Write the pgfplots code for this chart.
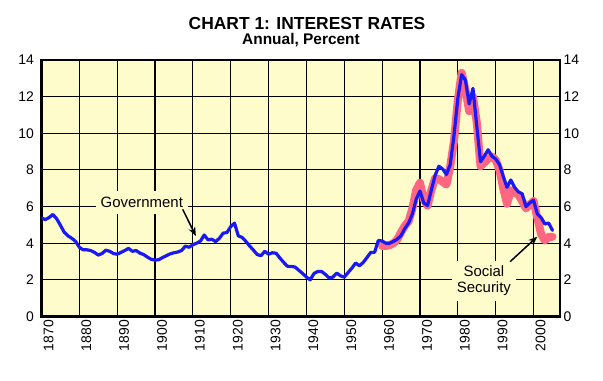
\documentclass[border=0pt]{standalone}
\usepackage{pgfplots}
\pgfplotsset{compat=1.18}
\usepackage{pgfplotstable}
\usepackage{fontspec}
\setmainfont{Liberation Sans}
\usetikzlibrary{arrows.meta}
\definecolor{bgy}{RGB}{255,252,204}
\definecolor{govblue}{RGB}{25,25,245}
\definecolor{sspink}{RGB}{255,102,130}

\pgfplotstableread{
year gov
1870 5.38
1871 5.29
1872 5.40
1873 5.57
1874 5.34
1875 4.98
1876 4.60
1877 4.40
1878 4.27
1879 4.10
1880 3.78
1881 3.64
1882 3.64
1883 3.60
1884 3.50
1885 3.35
1886 3.44
1887 3.62
1888 3.56
1889 3.44
1890 3.40
1891 3.50
1892 3.60
1893 3.72
1894 3.56
1895 3.60
1896 3.46
1897 3.38
1898 3.24
1899 3.12
1900 3.08
1901 3.10
1902 3.22
1903 3.32
1904 3.42
1905 3.48
1906 3.52
1907 3.60
1908 3.84
1909 3.78
1910 3.92
1911 4.00
1912 4.12
1913 4.45
1914 4.18
1915 4.22
1916 4.09
1917 4.27
1918 4.55
1919 4.58
1920 4.91
1921 5.10
1922 4.40
1923 4.32
1924 4.10
1925 3.85
1926 3.62
1927 3.38
1928 3.32
1929 3.56
1930 3.40
1931 3.48
1932 3.45
1933 3.19
1934 2.95
1935 2.74
1936 2.73
1937 2.70
1938 2.52
1939 2.35
1940 2.15
1941 2.00
1942 2.35
1943 2.46
1944 2.46
1945 2.30
1946 2.10
1947 2.15
1948 2.37
1949 2.22
1950 2.15
1951 2.40
1952 2.64
1953 2.92
1954 2.77
1955 2.95
1956 3.22
1957 3.50
1958 3.50
1959 4.15
1960 4.12
1961 4.00
1962 4.00
1963 4.10
1964 4.22
1965 4.42
1966 4.80
1967 5.10
1968 5.60
1969 6.40
1970 6.85
1971 6.20
1972 6.05
1973 6.90
1974 7.70
1975 8.20
1976 8.05
1977 7.75
1978 8.30
1979 9.90
1980 11.9
1981 13.2
1982 12.9
1983 11.6
1984 12.45
1985 10.4
1986 8.45
1987 8.75
1988 9.10
1989 8.75
1990 8.60
1991 8.30
1992 7.65
1993 7.05
1994 7.45
1995 7.05
1996 6.80
1997 6.70
1998 6.00
1999 6.20
2000 6.35
2001 5.60
2002 5.40
2003 5.05
2004 5.10
2005 4.70
}\govtable

\pgfplotstableread{
year ss
1960 3.85
1961 3.85
1962 3.90
1963 4.00
1964 4.20
1965 4.60
1966 4.95
1967 5.20
1968 5.90
1969 6.90
1970 7.30
1971 6.40
1972 6.05
1973 6.90
1974 7.55
1975 7.50
1976 7.35
1977 7.20
1978 8.20
1979 9.60
1980 11.8
1981 13.3
1982 12.4
1983 11.2
1984 12.0
1985 10.6
1986 8.20
1987 8.40
1988 8.60
1989 8.73
1990 8.55
1991 8.00
1992 7.00
1993 6.15
1994 6.90
1995 6.75
1996 6.65
1997 6.30
1998 5.90
1999 6.10
2000 6.30
2001 5.40
2002 4.50
2003 4.15
2004 4.35
2005 4.35
}\sstable

\begin{document}
\begin{tikzpicture}[x=1bp,y=1bp]
\useasboundingbox (0,0) rectangle (603,380);
\node[font=\bfseries\fontsize{17.5}{20}\selectfont, anchor=base, inner sep=0pt] at (307,351) {CHART 1: INTEREST RATES};
\node[font=\bfseries\fontsize{15.5}{18}\selectfont, anchor=base, inner sep=0pt] at (301,335.5) {Annual, Percent};
\begin{axis}[
  at={(41.5bp,63.5bp)}, anchor=south west,
  scale only axis, width=518.5bp, height=256.5bp,
  xmin=1870, xmax=2007, ymin=0, ymax=14,
  xtick={1870,1880,...,2000}, ytick={0,2,...,14},
  grid=major, major grid style={black, line width=1.1bp},
  axis line style={black, line width=2.2bp},
  axis background/.style={fill=bgy},
  major tick length=0pt,
  tick label style={font=\fontsize{14}{16}\selectfont},
  /pgf/number format/assume math mode=true,
  /pgf/number format/1000 sep={},
  xticklabel style={rotate=90, anchor=east, yshift=-7bp},
  yticklabel style={xshift=-4bp},
]
\addplot[sspink, line width=8bp, line join=round, line cap=round] table[x=year, y=ss] {\sstable};
\addplot[govblue, line width=3.2bp, line join=round, line cap=round] table[x=year, y=gov] {\govtable};
\node[fill=bgy, inner xsep=5bp, inner ysep=6bp, font=\fontsize{15}{15}\selectfont] at (axis cs:1896.5,6.22) {Government};
\draw[black, line width=1.5bp, -{Stealth[length=9bp,width=7bp]}] (axis cs:1907.3,5.85) -- (axis cs:1910.8,4.39);
\node[fill=bgy, inner xsep=5bp, inner ysep=5bp, align=center, font=\fontsize{15}{16}\selectfont] at (axis cs:1986.9,1.94) {Social\\Security};
\draw[black, line width=1.5bp, -{Stealth[length=9bp,width=7bp]}] (axis cs:1993.8,2.99) -- (axis cs:2001.0,4.36);
\end{axis}
\begin{axis}[
  at={(41.5bp,63.5bp)}, anchor=south west,
  scale only axis, width=518.5bp, height=256.5bp,
  xmin=1870, xmax=2007, ymin=0, ymax=14,
  xtick=\empty, ytick={0,2,...,14},
  ytick pos=right, yticklabel pos=right,
  axis line style={draw=none},
  major tick length=0pt,
  tick label style={font=\fontsize{14}{16}\selectfont},
  /pgf/number format/assume math mode=true,
]
\end{axis}
\end{tikzpicture}
\end{document}
